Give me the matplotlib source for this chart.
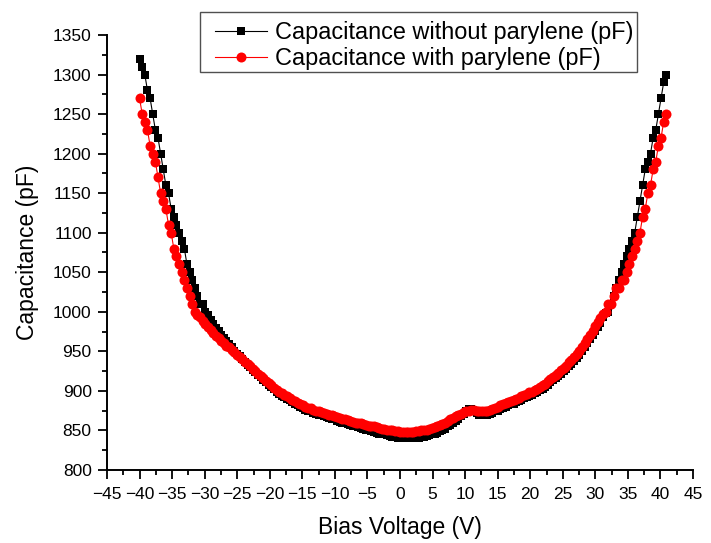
import numpy as np
import matplotlib
matplotlib.use("Agg")
import matplotlib.pyplot as plt
from matplotlib.ticker import MultipleLocator
from matplotlib.lines import Line2D
from matplotlib.patches import Rectangle

plt.rcParams['font.family'] = ['Liberation Sans', 'DejaVu Sans']

# Capacitance without parylene (pF), one value per sweep point
cap_without = [
    1320, 1310, 1300, 1280, 1270, 1250, 1230, 1220, 1200, 1180,
    1160, 1150, 1130, 1120, 1110, 1100, 1090, 1080, 1060, 1050,
    1040, 1030, 1020, 1010, 1010, 1000, 996, 990, 985, 980,
    976, 971, 967, 963, 959, 955, 951, 947, 944, 940,
    936, 933, 930, 927, 924, 920, 917, 914, 911, 908,
    905, 902, 899, 896, 894, 892, 890, 888, 886, 884,
    882, 880, 878, 876, 875, 874, 872, 871, 870, 869,
    868, 867, 866, 865, 864, 862, 861, 860, 859, 858,
    857, 856, 855, 854, 853, 852, 851, 850, 849, 848,
    847, 846, 845, 845, 844, 843, 842, 842, 841, 841,
    840, 840, 840, 840, 840, 841, 841, 842, 842, 843,
    844, 845, 846, 847, 849, 850, 852, 855, 857, 860,
    862, 865, 868, 871, 874, 877, 877, 875, 872, 870,
    869, 869, 870, 871, 872, 874, 875, 877, 878, 880,
    882, 883, 884, 886, 887, 889, 891, 892, 894, 895,
    897, 899, 901, 903, 905, 908, 911, 914, 916, 919,
    922, 925, 928, 931, 934, 938, 942, 946, 951, 956,
    961, 966, 971, 976, 981, 986, 993, 999, 1000, 1010,
    1020, 1030, 1040, 1050, 1060, 1070, 1080, 1090, 1100, 1120,
    1140, 1160, 1180, 1190, 1200, 1220, 1230, 1250, 1270, 1290,
    1300,
]

# Capacitance with parylene (pF)
cap_with = [
    1270, 1250, 1240, 1230, 1210, 1200, 1190, 1170, 1150, 1140,
    1130, 1110, 1100, 1080, 1070, 1060, 1050, 1040, 1030, 1020,
    1010, 1000, 996, 993, 989, 985, 981, 977, 973, 970,
    967, 963, 960, 957, 955, 952, 949, 946, 943, 940,
    937, 934, 931, 928, 925, 922, 919, 916, 913, 910,
    907, 904, 901, 899, 897, 895, 893, 891, 889, 887,
    885, 883, 882, 880, 879, 878, 876, 875, 874, 873,
    872, 871, 870, 869, 868, 867, 866, 865, 864, 863,
    862, 861, 860, 860, 859, 858, 857, 856, 856, 855,
    854, 853, 852, 852, 851, 850, 850, 849, 849, 848,
    848, 848, 848, 848, 848, 849, 849, 850, 850, 851,
    852, 853, 854, 855, 857, 858, 860, 862, 864, 866,
    868, 870, 871, 873, 874, 875, 876, 876, 875, 874,
    874, 874, 875, 876, 877, 879, 880, 882, 883, 885,
    886, 887, 888, 890, 891, 893, 895, 896, 898, 899,
    901, 903, 905, 907, 909, 912, 915, 918, 920, 923,
    926, 929, 932, 936, 939, 943, 947, 951, 956, 961,
    966, 971, 976, 982, 987, 992, 997, 1000, 1010, 1010,
    1020, 1030, 1030, 1040, 1040, 1050, 1060, 1070, 1080, 1090,
    1100, 1120, 1130, 1150, 1160, 1180, 1190, 1210, 1220, 1240,
    1250,
]

# Bias sweep (V): evenly spaced points, -40 V to about +40.9 V
V_START, V_STOP = -40.0, 40.9
bias_voltage = np.linspace(V_START, V_STOP, len(cap_without))

x_ticks = list(range(-45, 50, 5))
y_ticks = list(range(800, 1400, 50))
label_without = "Capacitance without parylene (pF)"
label_with = "Capacitance with parylene (pF)"

W, H = 711, 543
fig = plt.figure(figsize=(W / 100, H / 100), dpi=100)
ax = fig.add_axes([107 / W, 73 / H, (693 - 107) / W, 435 / H])

ax.plot(bias_voltage, cap_without, color='black', lw=0.8, marker='s',
        markersize=6, markeredgewidth=0, markerfacecolor='black', zorder=3)
ax.plot(bias_voltage, cap_with, color='red', lw=0.8, marker='o',
        markersize=7.2, markeredgewidth=0, markerfacecolor='red', zorder=4)

ax.set_xlim(-45, 45)
ax.set_ylim(800, 1350)
ax.set_xticks(x_ticks)
ax.set_yticks(y_ticks)
ax.xaxis.set_minor_locator(MultipleLocator(2.5))
ax.yaxis.set_minor_locator(MultipleLocator(25))

for s in ['top', 'right']:
    ax.spines[s].set_visible(False)
for s in ['left', 'bottom']:
    ax.spines[s].set_linewidth(1.4)
    ax.spines[s].set_color('black')

ax.tick_params(which='major', direction='out', length=6.5, width=1.3,
               labelsize=12.5, colors='black')
ax.tick_params(axis='x', which='major', pad=6)
ax.tick_params(axis='y', which='major', pad=4.5)
ax.tick_params(which='minor', direction='out', length=3.6, width=1.3)

ax.set_xlabel("Bias Voltage (V)", fontsize=16.5, labelpad=9.5)
ax.set_ylabel("Capacitance (pF)", fontsize=16.5, labelpad=10)

# legend frame drawn separately (box extends above the plot area)
fig.patches.append(Rectangle((200 / W, 1 - 72 / H), (637 - 200) / W, 60 / H,
                             transform=fig.transFigure, fill=True,
                             facecolor='white', edgecolor='#505050',
                             linewidth=1.0, zorder=5))

h1 = Line2D([], [], color='black', lw=0.8, marker='s', markersize=6,
            markeredgewidth=0)
h2 = Line2D([], [], color='red', lw=0.8, marker='o', markersize=7.2,
            markeredgewidth=0)
leg = fig.legend([h1, h2], [label_without, label_with],
                 loc='center left', bbox_to_anchor=(215 / W, 1 - 45.5 / H),
                 fontsize=16.9, frameon=False, handlelength=2.23,
                 handletextpad=0.34, labelspacing=0.12, borderpad=0,
                 borderaxespad=0)
leg.set_zorder(6)

fig.savefig("out.png", dpi=100)
